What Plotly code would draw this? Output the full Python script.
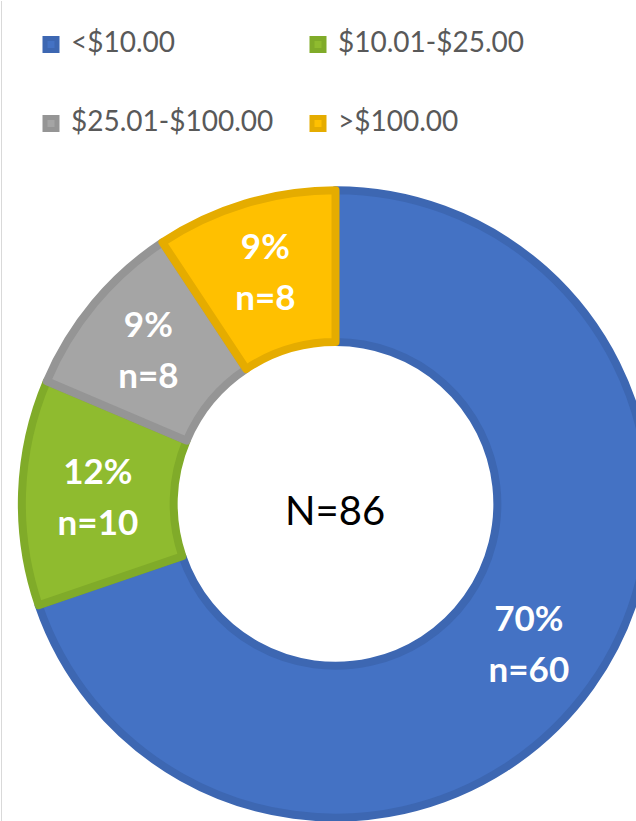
import plotly.graph_objects as go

categories = ["&lt;$10.00", "$10.01-$25.00", "$25.01-$100.00", "&gt;$100.00"]
counts = [60, 10, 8, 8]
total_label = "N=86"

fill_colors = ["#4472C4", "#8FBB2F", "#A5A5A5", "#FFC000"]
edge_colors = ["#3D67B2", "#80AB29", "#959595", "#E5AC00"]

W, H = 700, 900
legend_names = ["&nbsp;<br><span style='font-size:28px'>%s</span><br>&nbsp;" % c for c in categories]

fig = go.Figure(go.Pie(
    labels=legend_names,
    values=counts,
    sort=False,
    direction="clockwise",
    rotation=0,
    hole=0.516,
    marker=dict(colors=fill_colors, line=dict(color=edge_colors, width=8)),
    texttemplate="<span style='font-size:35px'>%{percent:.0%}</span><br><span style='font-size:35px'>n=%{value}</span>",
    textposition="inside",
    insidetextorientation="horizontal",
    insidetextfont=dict(family="Lato", size=39, color="white", weight="bold"),
    domain=dict(x=[21.5 / W, 649.5 / W], y=[1 - 817.5 / H, 1 - 189.5 / H]),
    hoverinfo="skip",
))

fig.add_annotation(
    text=total_label, x=335 / W, y=1 - 510 / H, xref="paper", yref="paper",
    showarrow=False, font=dict(family="Lato", size=40, color="black"),
    xanchor="center", yanchor="middle",
)

fig.add_shape(type="line", xref="paper", yref="paper", x0=1.5 / W, x1=1.5 / W, y0=0, y1=1,
              line=dict(color="#D9D9D9", width=1))

fig.update_layout(
    width=W, height=H,
    margin=dict(l=0, r=0, t=0, b=0),
    paper_bgcolor="white", plot_bgcolor="white",
    showlegend=True,
    legend=dict(
        orientation="h", x=31 / W, y=1 + 1 / H, xanchor="left", yanchor="top",
        font=dict(family="Lato", size=19.5, color="#595959"),
        entrywidth=222, entrywidthmode="pixels",
        bgcolor="rgba(0,0,0,0)", traceorder="normal",
    ),
)

fig.write_html(
    "out.html",
    post_script="document.body.style.margin='0';document.body.style.overflow='hidden';document.documentElement.style.overflow='hidden';",
)
